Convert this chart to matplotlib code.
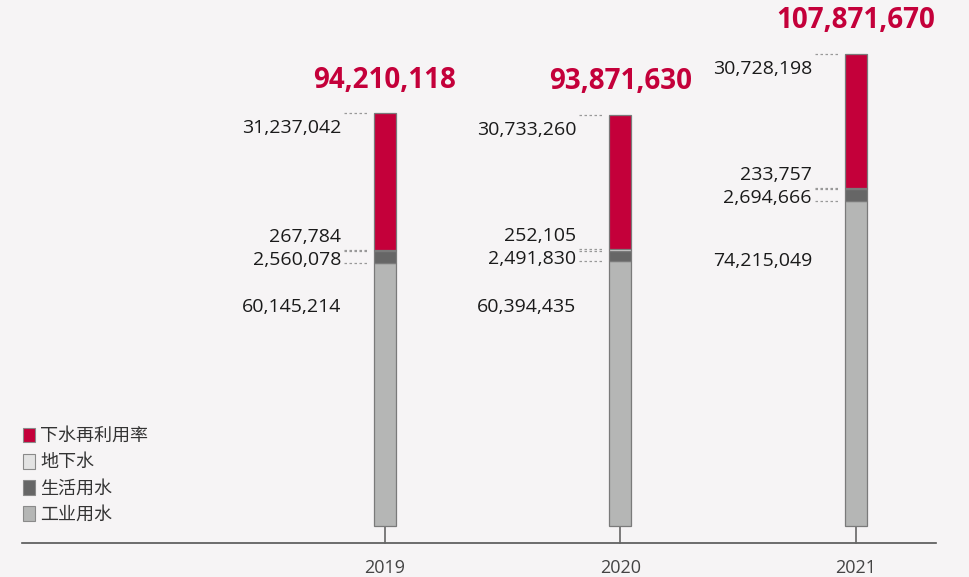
import matplotlib
matplotlib.use("Agg")
import matplotlib.pyplot as plt
from matplotlib.patches import Patch
import numpy as np

plt.rcParams['font.family'] = ['Open Sans', 'Noto Sans CJK SC', 'DejaVu Sans']

# ── data (m³) ────────────────────────────────────────────────────────────────
years      = ["2019", "2020", "2021"]
industrial = [60145214, 60394435, 74215049]   # 工业用水
domestic   = [2560078, 2491830, 2694666]      # 生活用水
ground     = [267784, 252105, 233757]         # 地下水
reuse      = [31237042, 30733260, 30728198]   # 下水再利用率
totals     = [94210118, 93871630, 107871670]

series = [
    ("工业用水",   industrial, "#b5b6b5"),
    ("生活用水",   domestic,   "#666666"),
    ("地下水",     ground,     "#e3e3e3"),
    ("下水再利用率", reuse,     "#c4003a"),
]

BG = "#f6f4f5"
W, H = 969, 577
PX_X = 235.5          # pixels per category step
PX_Y = 4.38 / 1e6     # pixels per m³
X0, Y0 = 385, 526     # pixel position of first bar centre / bar bottom
AXIS_PX = 543         # pixel row of the baseline

fig = plt.figure(figsize=(W / 100, H / 100), dpi=100, facecolor=BG)
ax = fig.add_axes([0, 0, 1, 1])
ax.set_facecolor(BG)
ax.set_xlim(-X0 / PX_X, (W - X0) / PX_X)
ax.set_ylim(-(H - Y0) / PX_Y, Y0 / PX_Y)
ax.axis("off")

x = np.arange(len(years))
bw = 22 / PX_X

bottom = np.zeros(len(years))
bounds = [bottom.copy()]
handles = {}
for name, vals, color in series:
    vals = np.array(vals, dtype=float)
    ax.bar(x, vals, bw, bottom=bottom, color=color,
           edgecolor="#7a7a7a", linewidth=0.9, zorder=3)
    handles[name] = Patch(facecolor=color, edgecolor="#8a8a8a", linewidth=0.8)
    bottom = bottom + vals
    bounds.append(bottom.copy())

# baseline and stems
axis_y = -(AXIS_PX - Y0) / PX_Y
ax.plot([22 / W, 936 / W], [(H - AXIS_PX) / H] * 2, transform=ax.transAxes,
        color="#555555", lw=1.2, zorder=2)
for xi in x:
    ax.plot([xi, xi], [0, axis_y], color="#666666", lw=1.2, zorder=2)
    ax.annotate(years[xi], (xi, axis_y), xytext=(0, -25), textcoords="offset pixels",
                ha="center", va="center", fontsize=13, color="#444444")

# dotted leaders at every segment boundary (except bottom)
for i, xi in enumerate(x):
    left = xi - bw / 2
    for k in range(1, len(bounds)):
        yv = bounds[k][i]
        ax.plot([left - 30 / PX_X, left - 6 / PX_X], [yv, yv],
                color="#999999", lw=0.9, ls=(0, (2, 2)), zorder=2)

# value labels
lab_style = dict(ha="right", va="center", fontsize=14, color="#1a1a1a",
                 textcoords="offset pixels")
ind_off = [-44, -46, -60]
for i, xi in enumerate(x):
    lx = xi - bw / 2 - 33 / PX_X
    ax.annotate(f"{reuse[i]:,}", (lx, bounds[4][i]), xytext=(0, -15), **lab_style)
    ax.annotate(f"{ground[i]:,}", (lx, bounds[3][i]), xytext=(0, 13), **lab_style)
    mid = (bounds[1][i] + bounds[2][i]) / 2
    ax.annotate(f"{domestic[i]:,}", (lx, mid), xytext=(0, -3), **lab_style)
    ax.annotate(f"{industrial[i]:,}", (lx, bounds[1][i]), xytext=(0, ind_off[i]),
                **lab_style)
    ax.annotate(f"{totals[i]:,}", (xi, bounds[4][i]), xytext=(0, 33),
                textcoords="offset pixels", ha="center", va="center",
                fontsize=20, fontweight="bold", color="#c4003a")

# legend
order = ["下水再利用率", "地下水", "生活用水", "工业用水"]
ax.legend([handles[n] for n in order], order, loc="upper left",
          bbox_to_anchor=(16 / W, 1 - 420 / H), frameon=False, fontsize=13,
          handlelength=0.65, handleheight=0.9, handletextpad=0.3,
          labelspacing=0.45, borderaxespad=0, labelcolor="#333333")

fig.savefig("out.png", dpi=100, facecolor=BG)
